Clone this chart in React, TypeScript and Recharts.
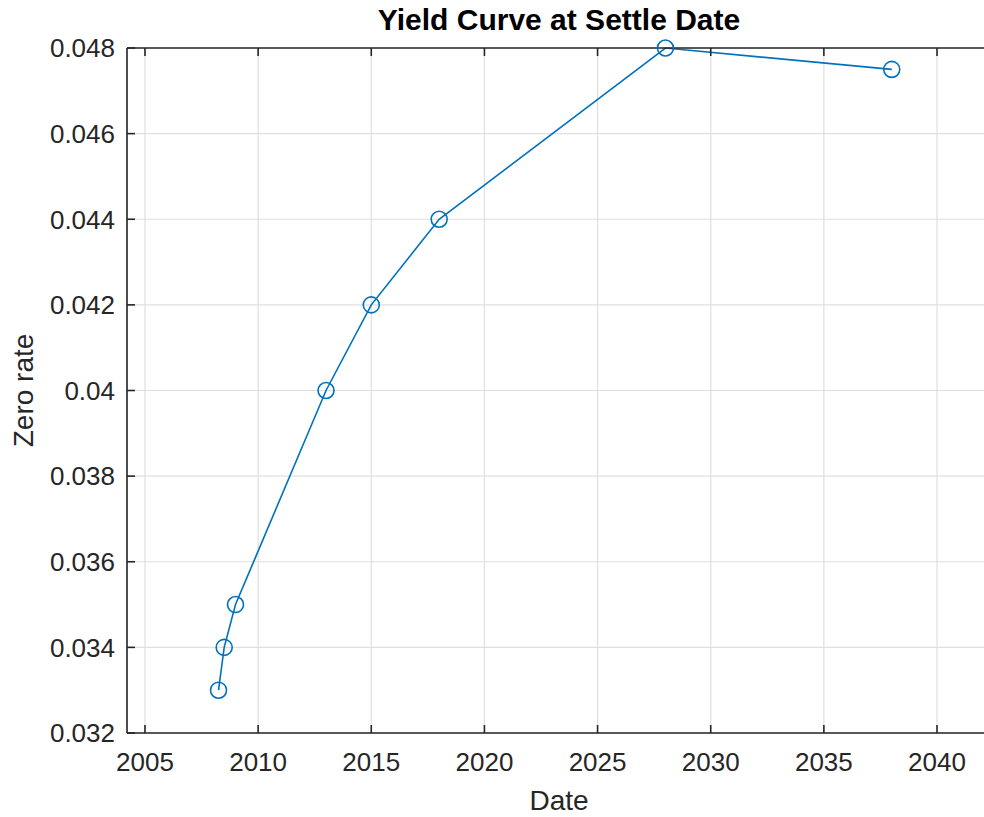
import React from 'react';
import { LineChart, Line, XAxis, YAxis, CartesianGrid } from 'recharts';

const years = [2008.25, 2008.5, 2009.0, 2013.0, 2015.0, 2018.0, 2028.0, 2038.0];
const rates = [0.033, 0.034, 0.035, 0.04, 0.042, 0.044, 0.048, 0.0475];
const xTicks = [2005, 2010, 2015, 2020, 2025, 2030, 2035, 2040];
const yTicks = [0.032, 0.034, 0.036, 0.038, 0.04, 0.042, 0.044, 0.046, 0.048];
const titleText = 'Yield Curve at Settle Date';
const xLabelText = 'Date';
const yLabelText = 'Zero rate';

const data = years.map((y, i) => ({ year: y, rate: rates[i] }));

const FONT = '"Liberation Sans", Arial, Helvetica, sans-serif';
const TXT = '#262626';
const AX = '#262626';
const TICK_LEN = 8;
const FS = 26;

const BottomTick = (props: any) => {
  const { x, y, payload } = props;
  const m = 20;
  return (
    <g>
      <line x1={x} x2={x} y1={y - m} y2={y - m - TICK_LEN} stroke={AX} strokeWidth={1.6} />
      <text x={x} y={y} dy="0.71em" textAnchor="middle" fill={TXT} fontSize={FS} fontFamily={FONT}>
        {payload.value}
      </text>
    </g>
  );
};

const TopTick = (props: any) => {
  const { x, y } = props;
  return <line x1={x} x2={x} y1={y} y2={y + TICK_LEN} stroke={AX} strokeWidth={1.6} />;
};

const LeftTick = (props: any) => {
  const { x, y, payload } = props;
  const m = 12;
  const label = String(Number(Number(payload.value).toFixed(3)));
  return (
    <g>
      <line x1={x + m} x2={x + m + TICK_LEN} y1={y} y2={y} stroke={AX} strokeWidth={1.6} />
      <text x={x} y={y} dy="0.36em" textAnchor="end" fill={TXT} fontSize={FS} fontFamily={FONT}>
        {label}
      </text>
    </g>
  );
};

const XLabel = (props: any) => {
  const vb = props.viewBox || {};
  const cx = vb.x + vb.width / 2;
  return (
    <text x={cx} y={810} textAnchor="middle" fill={TXT} fontSize={28} fontFamily={FONT}>
      {xLabelText}
    </text>
  );
};

const YLabel = (props: any) => {
  const vb = props.viewBox || {};
  const cy = vb.y + vb.height / 2;
  const cx = 33;
  return (
    <text
      x={cx}
      y={cy}
      transform={`rotate(-90, ${cx}, ${cy})`}
      textAnchor="middle"
      fill={TXT}
      fontSize={28}
      fontFamily={FONT}
    >
      {yLabelText}
    </text>
  );
};

export default function App() {
  return (
    <div
      style={{
        position: 'fixed',
        left: 0,
        top: 0,
        width: 984,
        height: 817,
        overflow: 'hidden',
        background: '#fff',
      }}
    >
      <div
        style={{
          position: 'absolute',
          left: 127,
          top: 3,
          width: 864,
          textAlign: 'center',
          fontFamily: FONT,
          fontWeight: 'bold',
          fontSize: 30,
          lineHeight: '34px',
          color: '#000',
          whiteSpace: 'nowrap',
          zIndex: 1,
        }}
      >
        {titleText}
      </div>
      <LineChart
        width={991}
        height={817}
        data={data}
        margin={{ top: 47, right: 0, bottom: 0, left: 0 }}
      >
        <CartesianGrid stroke="#dfdfdf" strokeWidth={1.2} />
        <XAxis
          type="number"
          dataKey="year"
          domain={[2004.205, 2042.386]}
          ticks={xTicks}
          interval={0}
          height={84}
          tickSize={0}
          tickMargin={20}
          tickLine={false}
          axisLine={{ stroke: AX, strokeWidth: 1.6 }}
          tick={<BottomTick />}
          label={<XLabel />}
        />
        <XAxis
          xAxisId="top"
          orientation="top"
          type="number"
          dataKey="year"
          domain={[2004.205, 2042.386]}
          ticks={xTicks}
          interval={0}
          height={1}
          tickSize={0}
          tickMargin={0}
          tickLine={false}
          axisLine={{ stroke: AX, strokeWidth: 1.6 }}
          tick={<TopTick />}
        />
        <YAxis
          type="number"
          domain={[0.032, 0.048]}
          ticks={yTicks}
          interval={0}
          width={127}
          tickSize={0}
          tickMargin={12}
          tickLine={false}
          axisLine={{ stroke: AX, strokeWidth: 1.6 }}
          tick={<LeftTick />}
          label={<YLabel />}
        />
        <Line
          type="linear"
          dataKey="rate"
          xAxisId={0}
          stroke="#0072BD"
          strokeWidth={1.6}
          dot={{ r: 8, fill: 'none', stroke: '#0072BD', strokeWidth: 1.6 }}
          isAnimationActive={false}
        />
      </LineChart>
    </div>
  );
}
